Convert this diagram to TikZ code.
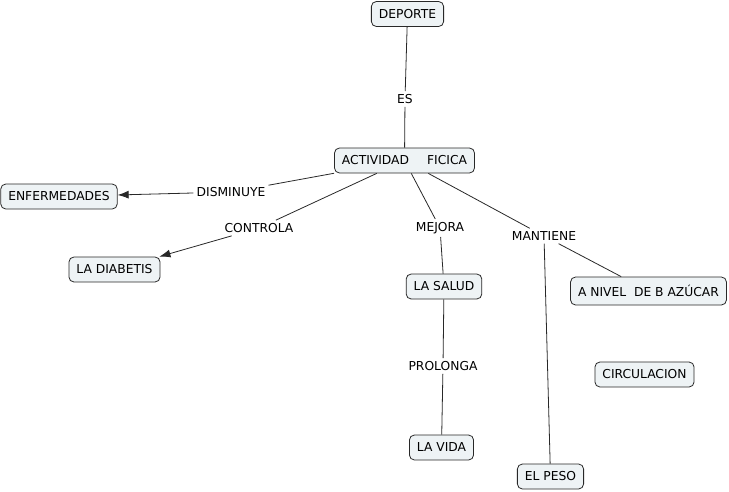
\documentclass[tikz,border=0pt]{standalone}
\usepackage{fontspec}
\setmainfont{DejaVu Sans}
\usetikzlibrary{arrows.meta}
\definecolor{conceptfill}{RGB}{238,243,245}
\definecolor{conceptline}{RGB}{40,40,40}

\begin{document}
\begin{tikzpicture}
				[
					x=1pt, y=-1pt,
					font=\fontsize{12.3}{14}\selectfont,
					conceptnode/.style={rectangle, rounded corners=5pt, draw=conceptline, fill=conceptfill, line width=0.8pt, inner xsep=7.5pt, minimum height=25pt},
					linknode/.style={rectangle, inner sep=3pt},
					link/.style={draw=conceptline, line width=0.8pt},
					linkarrow/.style={link, -{Latex[length=11pt,width=8pt]}},
				]
				\useasboundingbox (0,0) rectangle (729,491);

				\node [conceptnode] (deporte) at(407.5,14) {DEPORTE};
				\node [conceptnode] (actividad) at(404.5,160.5) {ACTIVIDAD\hspace{18pt}FICICA};
				\node [conceptnode] (enfermedades) at(59,196.5) {ENFERMEDADES};
				\node [conceptnode] (diabetis) at(114.5,269.5) {LA DIABETIS};
				\node [conceptnode] (salud) at(444,286.5) {LA SALUD};
				\node [conceptnode, minimum height=28pt] (azucar) at(648.5,291) {A NIVEL\ \ DE B AZÚCAR};
				\node [conceptnode] (circulacion) at(644.5,374.5) {CIRCULACION};
				\node [conceptnode] (vida) at(441.5,447.5) {LA VIDA};
				\node [conceptnode] (peso) at(550.5,476.5) {EL PESO};

				\node [linknode] (es) at(405,99) {ES};
				\node [linknode] (disminuye) at(231,192) {DISMINUYE};
				\node [linknode] (controla) at(259,228) {CONTROLA};
				\node [linknode] (mejora) at(440,228) {MEJORA};
				\node [linknode] (mantiene) at(544,236) {MANTIENE};
				\node [linknode] (prolonga) at(443,366) {PROLONGA};

				\draw[link] (deporte) -- (es);
				\draw[link] (es) -- (actividad);
				\draw[link] (actividad) -- (disminuye);
				\draw[linkarrow] (disminuye) -- (enfermedades);
				\draw[link] (actividad) -- (controla);
				\draw[linkarrow] (controla) -- (diabetis);
				\draw[link] (actividad) -- (mejora);
				\draw[link] (mejora) -- (salud);
				\draw[link] (actividad) -- (mantiene);
				\draw[link] (mantiene) -- (azucar);
				\draw[link] (mantiene) -- (peso);
				\draw[link] (salud) -- (prolonga);
				\draw[link] (prolonga) -- (vida);

			\end{tikzpicture}
\end{document}
